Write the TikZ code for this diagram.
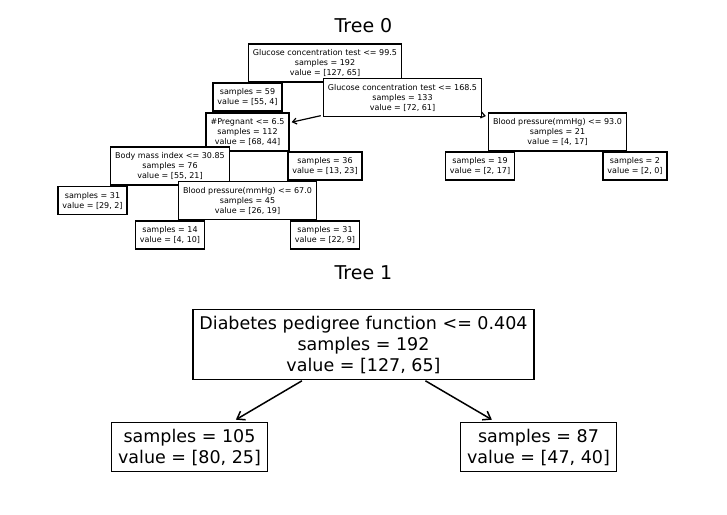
\documentclass[tikz,border=0pt]{standalone}
\usepackage{fontspec}
\setmainfont{DejaVu Sans}
\usetikzlibrary{arrows.meta,backgrounds}

\begin{document}
\begin{tikzpicture}[x=1pt,y=-1pt,
    smallBox/.style={draw,line width=1.5pt,fill=white,align=center,
        font=\fontsize{8}{10}\selectfont,inner xsep=0.45em,inner ysep=0.55em},
    bigBox/.style={draw,line width=1.6pt,fill=white,align=center,
        font=\fontsize{17.5}{21}\selectfont,inner xsep=0.67em,inner ysep=0.62em},
    treeTitle/.style={font=\fontsize{19}{23}\selectfont},
    smallArrow/.style={line width=1.2pt,-{Straight Barb[length=4pt,width=6pt]},
        shorten >=2pt,shorten <=2pt},
    stubLine/.style={line width=1pt,shorten >=2pt,shorten <=2pt},
    bigArrow/.style={line width=1.5pt,-{Straight Barb[length=7pt,width=10pt]},
        shorten >=4pt,shorten <=1pt}]
    \useasboundingbox (0,0) rectangle (727,514);

    % Tree 0
    \node[treeTitle] (title0) at (363.5,26) {Tree 0};
    \node[smallBox] (root0) at (325,63) {Glucose concentration test <= 99.5\\samples = 192\\value = [127, 65]};
    \node[smallBox] (leafA) at (247.5,97) {samples = 59\\value = [55, 4]};
    \node[smallBox] (glucB) at (402.5,97.5) {Glucose concentration test <= 168.5\\samples = 133\\value = [72, 61]};
    \node[smallBox] (pregC) at (247.5,132) {\#Pregnant <= 6.5\\samples = 112\\value = [68, 44]};
    \node[smallBox] (bmiD) at (170,166) {Body mass index <= 30.85\\samples = 76\\value = [55, 21]};
    \node[smallBox] (leafE) at (92.5,200.5) {samples = 31\\value = [29, 2]};
    \node[smallBox] (bpF) at (247.5,200.5) {Blood pressure(mmHg) <= 67.0\\samples = 45\\value = [26, 19]};
    \node[smallBox] (leafG) at (170,235) {samples = 14\\value = [4, 10]};
    \node[smallBox] (leafH) at (325,235) {samples = 31\\value = [22, 9]};
    \node[smallBox] (leafI) at (325,166) {samples = 36\\value = [13, 23]};
    \node[smallBox] (bpJ) at (557.5,132) {Blood pressure(mmHg) <= 93.0\\samples = 21\\value = [4, 17]};
    \node[smallBox] (leafK) at (480,166) {samples = 19\\value = [2, 17]};
    \node[smallBox] (leafL) at (635,166) {samples = 2\\value = [2, 0]};

    \begin{scope}[on background layer]
        \draw[stubLine] (root0) -- (leafA);
        \draw[stubLine] (root0) -- (glucB);
        \draw[smallArrow] (glucB) -- (pregC);
        \draw[stubLine] (pregC) -- (bmiD);
        \draw[stubLine] (bmiD) -- (leafE);
        \draw[stubLine] (bmiD) -- (bpF);
        \draw[stubLine] (bpF) -- (leafG);
        \draw[stubLine] (bpF) -- (leafH);
        \draw[stubLine] (pregC) -- (leafI);
        \draw[smallArrow] (glucB) -- (bpJ);
        \draw[stubLine] (bpJ) -- (leafK);
        \draw[stubLine] (bpJ) -- (leafL);
    \end{scope}

    % Tree 1
    \node[treeTitle] (title1) at (363.5,273) {Tree 1};
    \node[bigBox] (root1) at (363.5,344.5) {Diabetes pedigree function <= 0.404\\samples = 192\\value = [127, 65]};
    \node[bigBox] (left1) at (189.5,447) {samples = 105\\value = [80, 25]};
    \node[bigBox] (right1) at (538.5,447) {samples = 87\\value = [47, 40]};

    \draw[bigArrow] (root1) -- (left1);
    \draw[bigArrow] (root1) -- (right1);
\end{tikzpicture}
\end{document}
